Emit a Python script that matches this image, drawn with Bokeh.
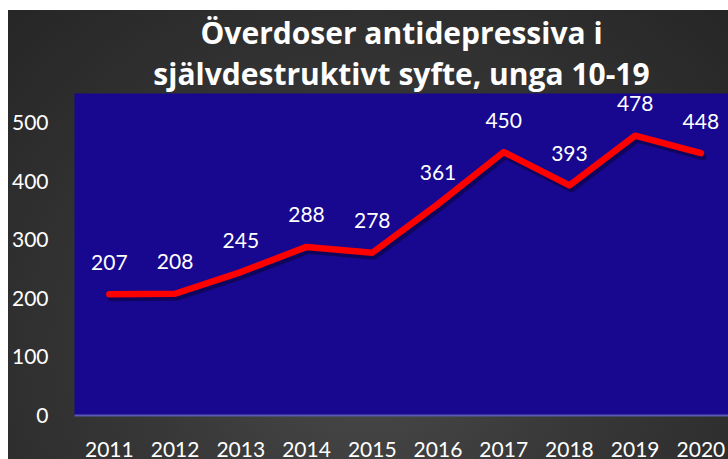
from bokeh.plotting import figure
from bokeh.models import ColumnDataSource, FixedTicker, Title
from bokeh.core.properties import value
from bokeh.transform import dodge
from bokeh.embed import file_html
from bokeh.resources import INLINE

years = [2011, 2012, 2013, 2014, 2015, 2016, 2017, 2018, 2019, 2020]
values = [207, 208, 245, 288, 278, 361, 450, 393, 478, 448]
labels = [str(v) for v in values]
y_ticks = [0, 100, 200, 300, 400, 500]
title_line1 = "Överdoser antidepressiva i"
title_line2 = "självdestruktivt syfte, unga 10-19"

src = ColumnDataSource(dict(x=years, y=values, label=labels))

FONT = "Lato"
TFONT = "Open Sans"

p = figure(width=720, height=449, x_range=(2010.47, 2020.42), y_range=(0, 550),
           output_backend="svg", toolbar_location=None,
           min_border_left=62, min_border_right=0, min_border_top=83, min_border_bottom=44)
p.styles = {"margin-left": "8px", "margin-top": "10px",
            "background": "radial-gradient(ellipse at 50% 75%, #4a4a4a 0%, #373737 45%, #262626 100%)"}
p.border_fill_alpha = 0
p.background_fill_color = "#17088f"
p.outline_line_color = None
p.xgrid.grid_line_color = None
p.ygrid.grid_line_color = None

p.title.visible = False
t2 = Title(text=title_line2, align="center", text_color="white", text_font=TFONT,
           text_font_size="30px", text_font_style="bold", standoff=0)
t1 = Title(text=title_line1, align="center", text_color="white", text_font=TFONT,
           text_font_size="30px", text_font_style="bold", standoff=-4)
p.add_layout(t2, "above")
p.add_layout(t1, "above")

for ax in (p.xaxis, p.yaxis):
    ax.major_tick_line_color = None
    ax.minor_tick_line_color = None
    ax.major_label_text_color = "white"
    ax.major_label_text_font = FONT
    ax.major_label_text_font_size = "21px"
    ax.major_label_standoff = 20
p.yaxis.axis_line_color = None
p.xaxis.axis_line_color = "#5a5ab4"
p.xaxis.axis_line_width = 2
p.xaxis.ticker = FixedTicker(ticks=years)
p.yaxis.ticker = FixedTicker(ticks=y_ticks)

# shadow
p.line(x=dodge("x", 0.03), y=dodge("y", -6), source=src, line_color="black", line_alpha=0.35,
       line_width=7, line_cap="round", line_join="round")
p.line(x="x", y="y", source=src, line_color="#ff0000", line_width=6.5,
       line_cap="round", line_join="round")
p.text(x="x", y="y", text="label", source=src, text_color="white", text_font=value(FONT),
       text_font_size="21px", text_align="center", text_baseline="middle", y_offset=-32)

open("out.html", "w").write(file_html(p, INLINE))
